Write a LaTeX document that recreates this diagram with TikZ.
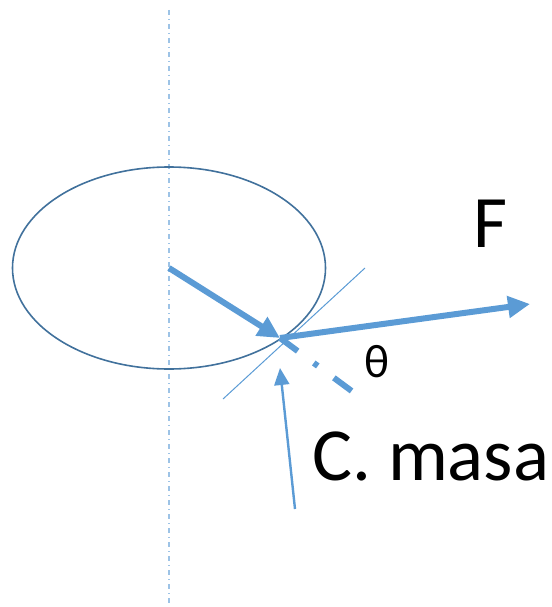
\documentclass[tikz,border=0pt]{standalone}
\usepackage{fontspec}
\setmainfont{Carlito}
\usetikzlibrary{arrows.meta}
\definecolor{acc}{HTML}{5B9BD5}
\definecolor{dkb}{HTML}{41719C}
\definecolor{ltb}{HTML}{9DC3E6}
\tikzset{
  axisline/.style={ltb, line width=1.2pt, dash pattern=on 5pt off 4pt on 1pt off 4pt},
  bigarrow/.style={acc, line width=6pt, -{Triangle[length=22pt,width=21pt]}},
  thinarrow/.style={acc, line width=2.4pt, -{Triangle[length=17pt,width=15pt]}},
  tangent/.style={acc, line width=1pt},
  dashdotline/.style={acc, line width=6pt, dash pattern=on 22pt off 20pt on 5pt off 20pt},
  lbl/.style={inner sep=0pt, anchor=base west, text=black}
}
\begin{document}
\begin{tikzpicture}[x=1pt,y=-1pt]
\useasboundingbox (0,0) rectangle (551,607);
\coordinate (top) at (169,10);
\coordinate (bot) at (169,607);
\coordinate (O) at (169,268);
\coordinate (P) at (280,338);
\coordinate (Fend) at (530,304);
\coordinate (t1) at (223,399);
\coordinate (t2) at (365,268);
\coordinate (d2) at (353,392);
\coordinate (cmtail) at (295,509);
\coordinate (cmtip) at (280,368);
\draw[axisline] (top) -- (bot);
\draw[dkb, line width=1.6pt] (O) ellipse [x radius=156.5, y radius=101];
\draw[tangent] (t1) -- (t2);
\draw[dashdotline] (P) -- (d2);
\draw[bigarrow] (O) -- (P);
\draw[bigarrow] (P) -- (Fend);
\draw[thinarrow] (cmtail) -- (cmtip);
\node[lbl, font=\fontsize{74}{80}\selectfont] (F) at (473,247) {F};
\node[lbl, font=\fontsize{47}{52}\selectfont] (th) at (364,377) {θ};
\node[lbl, font=\fontsize{75}{80}\selectfont] (cm) at (312,480) {C. masa};
\end{tikzpicture}
\end{document}
